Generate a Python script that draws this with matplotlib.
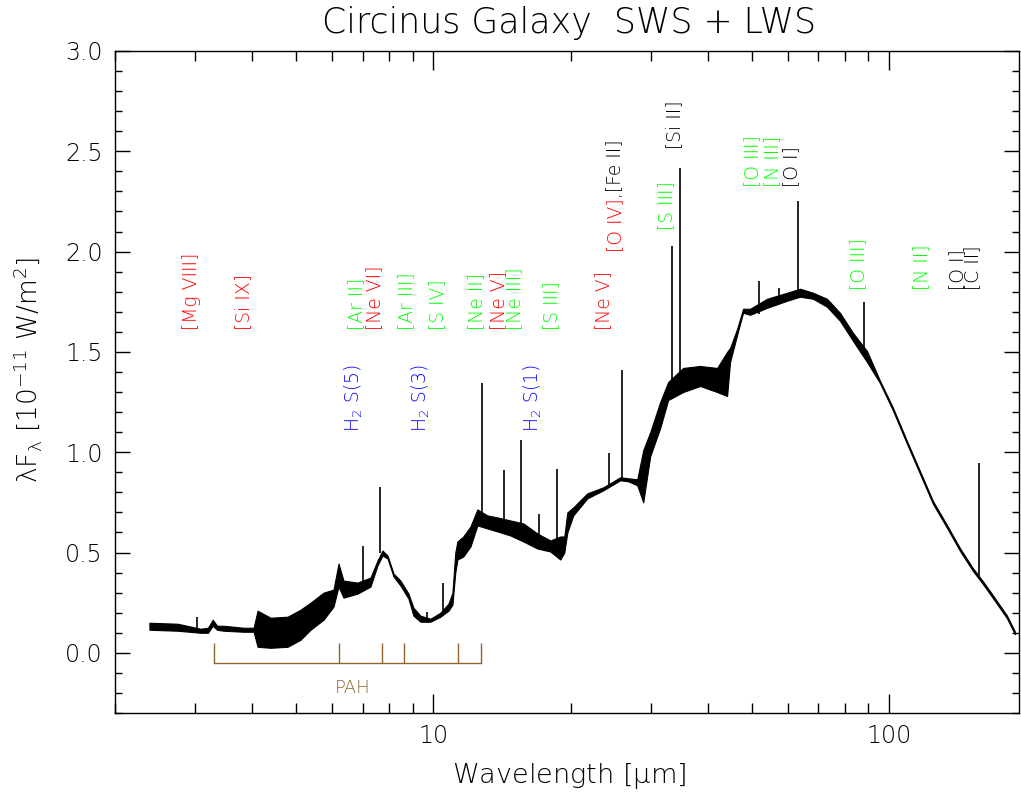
import numpy as np
import matplotlib
matplotlib.use("Agg")
import matplotlib.pyplot as plt
from matplotlib.ticker import MultipleLocator, LogLocator, FuncFormatter, NullFormatter
from matplotlib.transforms import offset_copy

# ---------------- data ----------------
# continuum envelope of the SWS + LWS spectrum: wavelength [um], lower / upper flux
wave = [2.38, 2.745, 3.083, 3.20, 3.277, 3.35, 3.463, 3.831, 4.03, 4.111, 4.39, 4.784,
        5.108, 5.374, 5.739, 6.035, 6.19, 6.348, 6.812, 7.274, 7.537, 7.73, 7.93, 8.175,
        8.467, 8.816, 9.04, 9.365, 9.85, 10.36, 10.79, 11.01, 11.17, 11.29, 11.63, 12.06,
        12.49, 13.13, 13.82, 14.75, 15.76, 16.91, 18.06, 18.99, 19.38, 19.68, 20.28, 21.77,
        23.60, 25.71, 26.77, 28.02, 28.88, 29.92, 31.46, 32.76, 35.33, 38.50, 41.96, 44.13,
        44.80, 46.42, 47.84, 49.56, 54.03, 59.75, 63.80, 68.13, 73.11, 78.08, 83.38, 89.48,
        95.56, 102.05, 109.5, 116.95, 124.9, 134.1, 143.2, 152.9, 160.8, 169.1, 181.5, 189.0]
flux_lo = [0.115, 0.110, 0.100, 0.100, 0.135, 0.115, 0.110, 0.105, 0.105, 0.030, 0.025, 0.030,
           0.065, 0.115, 0.165, 0.230, 0.330, 0.275, 0.295, 0.330, 0.435, 0.485, 0.470, 0.380,
           0.335, 0.270, 0.185, 0.155, 0.155, 0.180, 0.210, 0.240, 0.400, 0.465, 0.480, 0.530,
           0.635, 0.620, 0.605, 0.585, 0.555, 0.520, 0.505, 0.465, 0.500, 0.600, 0.685, 0.770,
           0.810, 0.860, 0.855, 0.835, 0.750, 0.980, 1.120, 1.260, 1.300, 1.330, 1.300, 1.280,
           1.450, 1.585, 1.695, 1.685, 1.720, 1.755, 1.775, 1.765, 1.725, 1.655, 1.555, 1.450,
           1.345, 1.208, 1.043, 0.893, 0.743, 0.623, 0.508, 0.408, 0.343, 0.273, 0.173, 0.093]
flux_hi = [0.150, 0.145, 0.120, 0.125, 0.165, 0.135, 0.135, 0.125, 0.125, 0.210, 0.175, 0.180,
           0.215, 0.250, 0.300, 0.315, 0.445, 0.360, 0.350, 0.375, 0.460, 0.510, 0.485, 0.395,
           0.360, 0.295, 0.225, 0.185, 0.170, 0.200, 0.245, 0.300, 0.500, 0.555, 0.580, 0.630,
           0.715, 0.685, 0.675, 0.660, 0.645, 0.595, 0.560, 0.580, 0.580, 0.700, 0.725, 0.795,
           0.825, 0.875, 0.870, 0.865, 1.010, 1.100, 1.250, 1.350, 1.420, 1.430, 1.420, 1.500,
           1.520, 1.615, 1.715, 1.715, 1.765, 1.795, 1.815, 1.795, 1.765, 1.695, 1.595, 1.505,
           1.357, 1.222, 1.057, 0.907, 0.757, 0.637, 0.522, 0.422, 0.357, 0.287, 0.187, 0.107]

# unresolved emission lines: wavelength, continuum at the line, peak
line_wave = [3.03, 6.99, 7.65, 9.66, 10.51, 12.81, 14.32, 15.55, 17.03, 18.71, 24.32,
             25.89, 33.48, 34.81, 51.81, 57.32, 63.18, 88.36, 157.74]
line_base = [0.12, 0.35, 0.50, 0.16, 0.19, 0.66, 0.62, 0.59, 0.56, 0.54, 0.82,
             0.87, 1.30, 1.33, 1.69, 1.74, 1.79, 1.50, 0.37]
line_peak = [0.18, 0.53, 0.825, 0.205, 0.35, 1.345, 0.91, 1.06, 0.69, 0.915, 0.995,
             1.41, 2.03, 2.415, 1.855, 1.82, 2.25, 1.75, 0.945]

# line identifications
label_text = ["[Mg VIII]", "[Si IX]", "[Ar II]", "[Ne VI]", "[Ar III]", "[S IV]",
              "[Ne II]", "[Ne V]", "[Ne III]", "[S III]", "[Ne V]",
              "[S III]", "[Si II]", "[O III]", "[N III]", "[O I]",
              "[O III]", "[N II]", "[O I]", "[C II]",
              r"H$_2$ S(5)", r"H$_2$ S(3)", r"H$_2$ S(1)"]
label_wave = [3.03, 3.94, 6.99, 7.65, 8.99, 10.51,
              12.81, 14.32, 15.55, 18.71, 24.32,
              33.48, 34.81, 51.81, 57.32, 63.18,
              88.36, 121.9, 145.5, 157.7,
              6.91, 9.66, 17.03]
label_y = [1.61, 1.61, 1.61, 1.61, 1.61, 1.61,
           1.61, 1.61, 1.61, 1.61, 1.61,
           2.11, 2.51, 2.32, 2.32, 2.32,
           1.81, 1.81, 1.81, 1.81,
           1.10, 1.10, 1.10]
label_color = ["red", "red", "lime", "red", "lime", "lime",
               "lime", "red", "lime", "lime", "red",
               "lime", "black", "lime", "lime", "black",
               "lime", "lime", "black", "black",
               "blue", "blue", "blue"]

# [O IV],[Fe II] blend label
blend_wave = 25.89
blend_y = 2.0

# PAH features
pah_wave = [3.3, 6.2, 7.7, 8.6, 11.3, 12.7]

# ---------------- figure ----------------
plt.rcParams["font.family"] = ["DejaVu Sans"]
plt.rcParams["mathtext.fontset"] = "custom"
plt.rcParams["mathtext.rm"] = "DejaVu Sans:light"
plt.rcParams["mathtext.it"] = "DejaVu Sans:light"
plt.rcParams["mathtext.bf"] = "DejaVu Sans:light"
plt.rcParams["mathtext.sf"] = "DejaVu Sans:light"
plt.rcParams["mathtext.default"] = "rm"
W, H = 1021, 798
fig = plt.figure(figsize=(W / 100, H / 100), dpi=100)
ax = fig.add_axes([115 / W, 1 - 713 / H, (1019 - 115) / W, (713 - 51) / H])
ax.set_xscale("log")
ax.set_xlim(2.0, 193)
ax.set_ylim(-0.3, 3.0)

ax.fill_between(wave, flux_lo, flux_hi, color="black", lw=0.8)
ax.vlines(line_wave, line_base, line_peak, colors="black", lw=1.2)

LFS = 13.5
# labels
lab_tr = offset_copy(ax.transData, fig=fig, x=-6, y=0, units="dots")
for t, w, y, c in zip(label_text, label_wave, label_y, label_color):
    ax.text(w, y, t, rotation=90, ha="center", va="bottom", color=c,
            fontsize=LFS, fontweight="light", transform=lab_tr)
t1 = ax.text(blend_wave, blend_y, "[O IV]", rotation=90, ha="center", va="bottom",
             color="red", fontsize=LFS, fontweight="light", transform=lab_tr)
ax.annotate(",[Fe II]", xy=(0.5, 1.0), xycoords=t1, rotation=90, ha="center",
            va="bottom", color="black", fontsize=LFS, fontweight="light")

# PAH bracket
pah_col = "#8C6430"
ax.plot([pah_wave[0], pah_wave[-1]], [-0.05, -0.05], color=pah_col, lw=1.0)
ax.vlines(pah_wave, -0.05, 0.05, colors=pah_col, lw=1.0)
ax.text(6.65, -0.175, "PAH", ha="center", va="center", color=pah_col, fontsize=13,
        fontweight="light")

# axes styling
ax.xaxis.set_major_locator(LogLocator(base=10, numticks=10))
ax.xaxis.set_minor_locator(LogLocator(base=10, subs=np.arange(2, 10), numticks=10))
ax.xaxis.set_major_formatter(FuncFormatter(lambda v, p: "%d" % round(v)))
ax.xaxis.set_minor_formatter(NullFormatter())
ax.yaxis.set_major_locator(MultipleLocator(0.5))
ax.yaxis.set_minor_locator(MultipleLocator(0.1))
ax.yaxis.set_major_formatter(FuncFormatter(lambda v, p: "%.1f" % v))

ax.tick_params(which="both", direction="in", top=True, right=True, labelsize=17,
               width=1.0, color="black")
ax.tick_params(axis="x", which="major", length=14, pad=8)
ax.tick_params(axis="x", which="minor", length=7)
ax.tick_params(axis="y", which="major", length=11, pad=9)
ax.tick_params(axis="y", which="minor", length=5)
for lab in ax.get_xticklabels() + ax.get_yticklabels():
    lab.set_fontweight("light")
for s in ax.spines.values():
    s.set_linewidth(1.0)

fig.text(569 / W, 1 - 23 / H, "Circinus Galaxy  SWS + LWS", ha="center", va="center",
         fontsize=25, fontweight="light")
fig.text(569 / W, 1 - 776 / H, r"Wavelength [$\mu$m]", ha="center", va="center",
         fontsize=19.5, fontweight="light")
fig.text(28 / W, 1 - 370 / H, r"$\lambda$F$_\lambda$ [10$^{-11}$ W/m$^2$]",
         ha="center", va="center", rotation=90, fontsize=19, fontweight="light")

fig.savefig("out.png", dpi=100)
